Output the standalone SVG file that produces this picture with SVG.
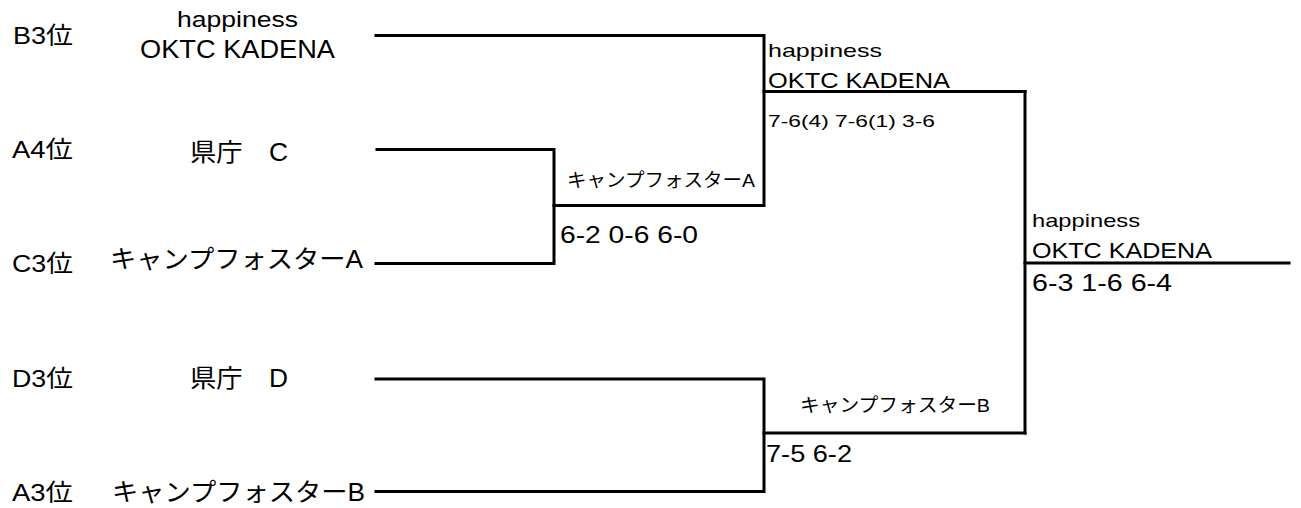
<svg xmlns="http://www.w3.org/2000/svg" width="1301" height="508" viewBox="0 0 1301 508">
<style>
text{font-family:"Liberation Sans","Noto Sans CJK JP",sans-serif;fill:#000}
.seed{font-size:24px}
.team{font-size:25px}
.hap{font-size:22px}
.mid{font-size:19px}
.nm{font-size:22px}
.sc{font-size:24px}
.sm{font-size:17px}
.ln{fill:none;stroke:#000;stroke-width:3;stroke-linecap:square;stroke-linejoin:miter}
</style>
<rect width="1301" height="508" fill="#fff"/>
<g id="connectors">
<path class="ln" d="M376 35.5 H764 V205.5 H554"/>
<path class="ln" d="M377 149.5 H554 V263.5 H376"/>
<path class="ln" d="M764 91.5 H1025"/>
<path class="ln" d="M376 379 H764 V491.5 H376"/>
<path class="ln" d="M764 433 H1025"/>
<path class="ln" d="M1025 91.5 V433"/>
<path class="ln" d="M1025 263 H1289"/>
</g>
<g id="seed-b3"><text class="seed" x="13" y="44" textLength="60" lengthAdjust="spacingAndGlyphs">B3位</text></g>
<g id="seed-a4"><text class="seed" x="12" y="158" textLength="61" lengthAdjust="spacingAndGlyphs">A4位</text></g>
<g id="seed-c3"><text class="seed" x="12" y="272" textLength="61" lengthAdjust="spacingAndGlyphs">C3位</text></g>
<g id="seed-d3"><text class="seed" x="12" y="387" textLength="61" lengthAdjust="spacingAndGlyphs">D3位</text></g>
<g id="seed-a3"><text class="seed" x="12" y="501" textLength="61" lengthAdjust="spacingAndGlyphs">A3位</text></g>
<g id="team-okinawa">
<text class="hap" x="177" y="27" textLength="121" lengthAdjust="spacingAndGlyphs">happiness</text>
<text class="team" x="140" y="58" textLength="195" lengthAdjust="spacingAndGlyphs">OKTC KADENA</text>
</g>
<g id="team-kencho-c"><text class="team" x="190" y="161" textLength="98" lengthAdjust="spacingAndGlyphs">県庁　C</text></g>
<g id="team-camp-a"><text class="team" x="110" y="268" textLength="253" lengthAdjust="spacingAndGlyphs">キャンプフォスターA</text></g>
<g id="team-kencho-d"><text class="team" x="190" y="387" textLength="98" lengthAdjust="spacingAndGlyphs">県庁　D</text></g>
<g id="team-camp-b"><text class="team" x="112" y="501" textLength="253" lengthAdjust="spacingAndGlyphs">キャンプフォスターB</text></g>
<g id="r1-top">
<text class="mid" x="567" y="187" textLength="188" lengthAdjust="spacingAndGlyphs">キャンプフォスターA</text>
<text class="sc" x="560" y="243" textLength="138" lengthAdjust="spacingAndGlyphs">6-2 0-6 6-0</text>
</g>
<g id="r1-bottom">
<text class="mid" x="800" y="412" textLength="190" lengthAdjust="spacingAndGlyphs">キャンプフォスターB</text>
<text class="sc" x="766" y="462" textLength="86" lengthAdjust="spacingAndGlyphs">7-5 6-2</text>
</g>
<g id="semi">
<text class="mid" x="768" y="57" textLength="114" lengthAdjust="spacingAndGlyphs">happiness</text>
<text class="nm" x="768" y="88" textLength="182" lengthAdjust="spacingAndGlyphs">OKTC KADENA</text>
<text class="sm" x="768" y="127" textLength="167" lengthAdjust="spacingAndGlyphs">7-6(4) 7-6(1) 3-6</text>
</g>
<g id="final">
<text class="mid" x="1032" y="227" textLength="108" lengthAdjust="spacingAndGlyphs">happiness</text>
<text class="nm" x="1032" y="258" textLength="180" lengthAdjust="spacingAndGlyphs">OKTC KADENA</text>
<text class="sc" x="1032" y="291" textLength="140" lengthAdjust="spacingAndGlyphs">6-3 1-6 6-4</text>
</g>
</svg>
